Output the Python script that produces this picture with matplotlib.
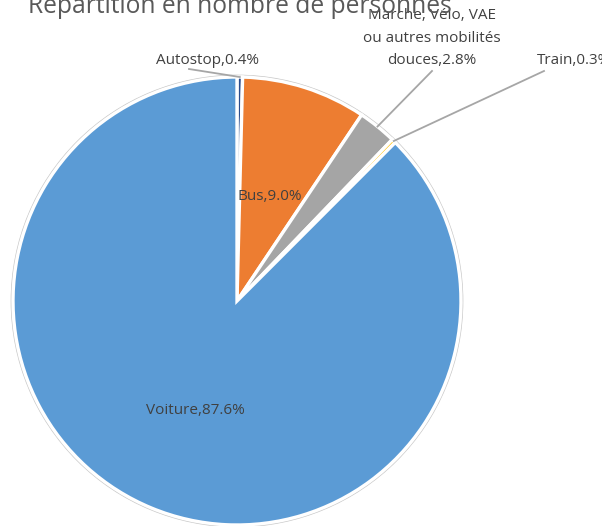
import numpy as np
import matplotlib.pyplot as plt

plt.rcParams['font.family'] = ['Open Sans', 'DejaVu Sans']

# données du camembert
categories = ['Autostop', 'Bus', 'Marche, Vélo, VAE\nou autres mobilités\ndouces', 'Train', 'Voiture']
shares = [0.4, 9.0, 2.8, 0.3, 87.6]
colors = ['#2B4C8C', '#ED7D31', '#A5A5A5', '#FFC000', '#5B9BD5']
labels = ['%s,%.1f%%' % (c, s) for c, s in zip(categories, shares)]

W, H = 602, 526
fig = plt.figure(figsize=(W / 100, H / 100), dpi=100)
ax = fig.add_axes([0, 0, 1, 1])

# centre et rayon en pixels (axe y vers le haut)
cx, cy, R = 237, 225, 224

ax.add_patch(plt.Circle((cx, cy), R + 1.5, fc='none', ec='#C8C8C8', lw=1.2, zorder=0))
wedges, texts = ax.pie(shares, colors=colors, startangle=90, counterclock=False,
                       center=(cx, cy), radius=R, labels=labels, labeldistance=0.5,
                       wedgeprops=dict(edgecolor='white', linewidth=2.4),
                       textprops=dict(fontsize=11, color='#404040'))
ax.set_xlim(0, W)
ax.set_ylim(0, H)
ax.axis('off')

for t in texts:
    t.set_ha('center')
    t.set_va('center')
texts[1].set_position((270, 329))
texts[4].set_position((195, 116))

# étiquettes extérieures + lignes de rappel
outside = {0: ((207, 466), (189, 457), 'center'),
           2: ((432, 488), (432, 455), 'center'),
           3: ((537, 466), (544, 455), 'left')}
for i, (pos, start, ha) in outside.items():
    t = texts[i]
    t.set_position(pos)
    t.set_ha(ha)
    t.set_multialignment('center')
    t.set_linespacing(1.7)
    w = wedges[i]
    ang = np.deg2rad((w.theta1 + w.theta2) / 2)
    ex, ey = cx + R * np.cos(ang), cy + R * np.sin(ang)
    ax.plot([start[0], ex], [start[1], ey], color='#A6A6A6', lw=1.3, zorder=5)

fig.text(28 / W, 1 - 13 / H, 'Répartition en nombre de personnes', fontsize=17.7,
         color='#595959', va='baseline', ha='left')

fig.savefig('out.png', dpi=100)
